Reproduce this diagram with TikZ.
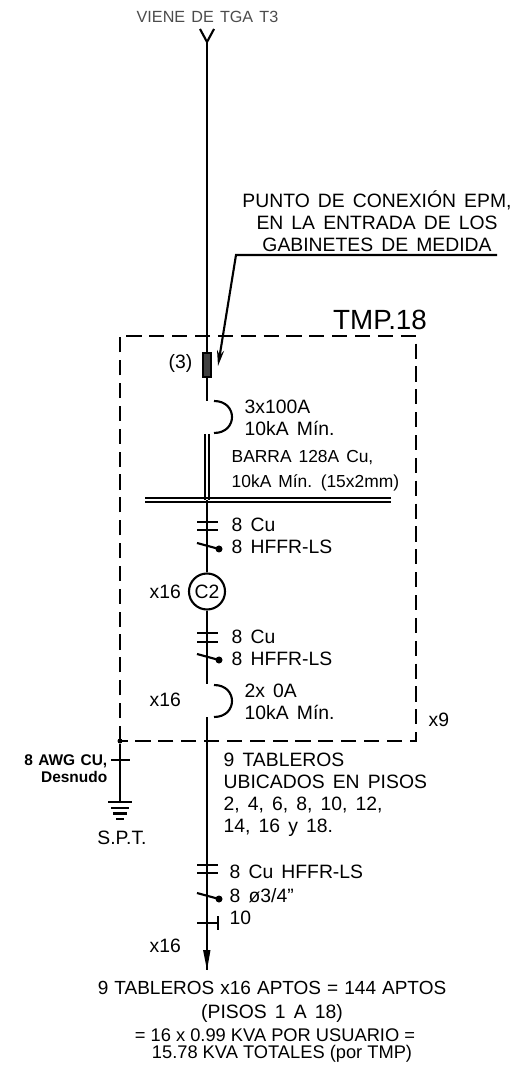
\documentclass[tikz,border=0pt]{standalone}
\usepackage{fontspec}
\setmainfont{Liberation Sans}
\usetikzlibrary{arrows.meta}
\usetikzlibrary{shapes}

\newcommand{\cadtext}{\fontsize{5.5}{6.3}\selectfont\spaceskip=.42em\relax}
\newcommand{\cadtight}{\fontsize{5.4}{6.3}\selectfont\spaceskip=.32em\relax}
\newcommand{\cadsmall}{\fontsize{4.95}{7}\selectfont\spaceskip=.4em\relax}
\newcommand{\cadarial}{\fontsize{5.2}{6}\selectfont}
\newcommand{\cadgray}{\fontsize{4.6}{6}\selectfont\spaceskip=.38em\relax}
\newcommand{\cadbold}{\bfseries\fontsize{4.4}{4.9}\selectfont\spaceskip=.35em\relax}

\tikzset{
	linea/.style={draw=black,line width=0.6pt},
	limite/.style={draw=black,line width=0.5pt,dash pattern=on 4.3pt off 2.2pt},
	barra/.style={draw=black,line width=0.55pt},
	punto/.style={circle,fill=black,inner sep=0pt,minimum size=2mm},
	texto/.style={inner sep=0pt,anchor=west,font=\cadtext},
	textoc/.style={inner sep=0pt,align=center,font=\cadtext},
}

\begin{document}
\begin{tikzpicture}[x=0.01cm,y=-0.01cm]
			
			% marco de la imagen
			\useasboundingbox (0,0) rectangle (519,1071);
			
			% puntos del alimentador
			\coordinate (entrada) at (207,42);
			\coordinate (brazoA) at (200,29);
			\coordinate (brazoB) at (214,29);
			\coordinate (corteA) at (207,401);
			\coordinate (corteB) at (207,434);
			\coordinate (barraN) at (207,500);
			\coordinate (barraI) at (145,500);
			\coordinate (barraD) at (391,500);
			\coordinate (corteC) at (207,684);
			\coordinate (corteD) at (207,717);
			\coordinate (flecha) at (207,970);
			
			% fusible y contador
			\node[draw=black,fill=black!75,line width=0.5pt,minimum width=8pt*0.3,minimum height=24*0.2845pt,inner sep=0pt] (fusible) at (207,365) {};
			\node[draw=black,circle,line width=0.6pt,minimum size=36*0.2845pt,inner sep=0pt,font=\cadtext] (medidor) at (207,591.5) {C2};
			
			% alimentador
			\draw[linea] (brazoA) -- (entrada) -- (brazoB);
			\draw[linea] (entrada) -- (fusible.north);
			\draw[linea] (fusible.south) -- (corteA);
			\draw[barra] ([xshift=-1.6*0.2845pt]corteB) -- ([xshift=-1.6*0.2845pt]barraN);
			\draw[barra] ([xshift=1.6*0.2845pt]corteB) -- ([xshift=1.6*0.2845pt]barraN);
			\draw[barra] ([yshift=1.6*0.2845pt]barraI) -- ([yshift=1.6*0.2845pt]barraD);
			\draw[barra] ([yshift=-1.6*0.2845pt]barraI) -- ([yshift=-1.6*0.2845pt]barraD);
			\draw[linea] (barraN) -- (medidor.north);
			\draw[linea] (medidor.south) -- (corteC);
			\draw[linea] (corteD) -- (flecha);
			
			% proteccion
			\draw[linea] (214,401) .. controls (238,401) and (238,433) .. (214,433);
			\draw[linea] (214,685) .. controls (238,685) and (238,717) .. (214,717);
			
			% marcas de conductores
			\foreach \yy in {522,530,633,642,865,873}
				\draw[linea] (197,\yy) -- (218,\yy);
			\foreach \yy in {543,654,893}
				\draw[linea] (197,\yy) -- (219,\yy+6);
			\node[punto,minimum size=7*0.2845pt] (puntoA) at (219,549) {};
			\node[punto,minimum size=7*0.2845pt] (puntoB) at (219,660) {};
			\node[punto,minimum size=7*0.2845pt] (puntoC) at (219,899) {};
			\draw[linea] (197,923) -- (218,923);
			\draw[linea] (218,916) -- (218,930);
			
			% punta final
			\fill[black] (203,950) -- (210.5,950) -- (flecha) -- cycle;
			
			% tablero
			\draw[limite] (120,741) -- (120,336) -- (416,336) -- (416,741) -- cycle;
			\node[punto,minimum size=5*0.2845pt] (tierra) at (120,741) {};
			
			% puesta a tierra
			\coordinate (tierraB) at (120,802);
			\draw[linea] (tierra) -- (tierraB);
			\draw[linea] (111,760) -- (130,760);
			\draw[linea] (108,802) -- (132,802);
			\draw[linea] (111,808) -- (129,808);
			\draw[linea] (113,813.5) -- (127,813.5);
			\draw[linea] (116,819) -- (124,819);
			
			% flecha del punto de conexion
			\coordinate (notaA) at (497,255);
			\coordinate (notaB) at (236,255);
			\coordinate (notaC) at (218,366);
			\draw[linea,-{Stealth[length=4.5pt,width=2pt]}] (notaA) -- (notaB) -- (notaC);
			
			% textos superiores
			\node[textoc,text=black!70,font=\cadgray] (viene) at (207.5,17) {VIENE DE TGA T3};
			\node[textoc] (nota) at (377,221) {PUNTO DE CONEXIÓN EPM,\\EN LA ENTRADA DE LOS\\GABINETES DE MEDIDA};
			\node[textoc,font=\fontsize{7.9}{9}\selectfont] (tmp) at (380,320) {TMP.18};
			
			% textos del tablero
			\node[texto] (fusibleT) at (168,364) {(3)};
			\node[texto,align=left] (totalA) at (244,417.5) {3x100A\\10kA Mín.};
			\node[texto,align=left,font=\cadsmall] (barraT) at (231,470.5) {BARRA 128A Cu,\\10kA Mín. (15x2mm)};
			\node[texto,align=left] (cableA) at (231,536) {8 Cu\\8 HFFR-LS};
			\node[texto] (vecesA) at (149,592) {x16};
			\node[texto,align=left] (cableB) at (231,647.5) {8 Cu\\8 HFFR-LS};
			\node[texto] (vecesB) at (149,700) {x16};
			\node[texto,align=left] (totalB) at (244,702) {2x 0A\\10kA Mín.};
			\node[texto] (vecesC) at (428,720) {x9};
			
			% textos inferiores
			\node[texto,align=left] (pisos) at (223,794.5) {9 TABLEROS\\UBICADOS EN PISOS\\2, 4, 6, 8, 10, 12,\\14, 16 y 18.};
			\node[inner sep=0pt,align=right,anchor=east,font=\cadbold] (awg) at (108,768.5) {8 AWG CU,\\Desnudo};
			\node[textoc] (spt) at (122,838) {S.P.T.};
			\node[texto] (cableC) at (229,872) {8 Cu HFFR-LS};
			\node[texto] (cableD) at (229,896) {8 ø3/4”};
			\node[texto] (cableE) at (229,918) {10};
			\node[texto] (vecesD) at (149,946) {x16};
			\node[textoc,font=\cadtight] (resumenA) at (272,988) {9 TABLEROS x16 APTOS = 144 APTOS};
			\node[textoc] (resumenB) at (272,1013) {(PISOS 1 A 18)};
			\node[textoc,font=\cadarial] (resumenC) at (275,1035) {= 16 x 0.99 KVA POR USUARIO =};
			\node[textoc,font=\cadarial] (resumenD) at (282,1054) {15.78 KVA TOTALES (por TMP)};
			
		\end{tikzpicture}
\end{document}
